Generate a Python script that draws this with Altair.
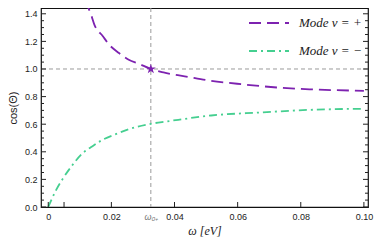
import altair as alt
import pandas as pd

# ---- data ----
omega_plus = [0.01147, 0.01356, 0.0146, 0.0173, 0.0193, 0.0224, 0.0255, 0.0287,
              0.0325, 0.0365, 0.0443, 0.0515, 0.062, 0.0724, 0.0828, 0.1]
cos_plus = [1.50, 1.394, 1.322, 1.237, 1.176, 1.116, 1.067, 1.038,
            1.0, 0.975, 0.943, 0.915, 0.888, 0.866, 0.853, 0.842]

omega_minus = [0.0, 0.0026, 0.0047, 0.0073, 0.0109, 0.0136, 0.0172, 0.0214,
               0.0255, 0.0325, 0.0375, 0.0412, 0.0516, 0.0672, 0.0829, 0.1]
cos_minus = [0.0, 0.128, 0.208, 0.293, 0.390, 0.434, 0.487, 0.528,
             0.564, 0.603, 0.620, 0.632, 0.663, 0.685, 0.704, 0.712]

omega0 = 0.0325
label_plus = "Mode ν = +"
label_minus = "Mode ν = −"

x_ticks = [0, 0.02, omega0, 0.04, 0.06, 0.08, 0.10]
x_tick_marks = [0, 0.005, 0.02, 0.04, 0.06, 0.08, 0.10]
y_major = [0, 0.2, 0.4, 0.6, 0.8, 1.0, 1.2, 1.4]
y_minor = [0.05, 0.1, 0.15, 0.25, 0.3, 0.35, 0.45, 0.5, 0.55, 0.65, 0.7, 0.75,
           0.85, 0.9, 0.95, 1.05, 1.1, 1.15, 1.25, 1.3, 1.35]

PURPLE = "#7d22b0"
GREEN = "#45cf90"
W, H = 327, 199
STAR = ("M0,-1L0.2245,-0.309L0.951,-0.309L0.363,0.118L0.588,0.809L0,0.382"
        "L-0.588,0.809L-0.363,0.118L-0.951,-0.309L-0.2245,-0.309Z")

curves = pd.concat([
    pd.DataFrame({"w": omega_plus, "c": cos_plus, "mode": label_plus}),
    pd.DataFrame({"w": omega_minus, "c": cos_minus, "mode": label_minus}),
], ignore_index=True)

xs = alt.Scale(domain=[-0.0023, 0.1013], nice=False, zero=False)
ys = alt.Scale(domain=[0, 1.442], nice=False)

is_w0 = "abs(datum.value - 0.0325) < 0.001"
label_expr = ("datum.value == 0 ? '0' : " + is_w0 + " ? 'ω₀₊' : "
              "format(datum.value, '.2f')")

xaxis = alt.Axis(values=x_ticks, labelExpr=label_expr, tickSize=0, domain=False,
                 grid=False, labelPadding=5, labelFont="Liberation Sans", labelFontSize=9,
                 labelColor={"condition": {"test": is_w0, "value": "#777777"},
                             "value": "#222222"},
                 labelFontStyle={"condition": {"test": is_w0, "value": "italic"},
                                 "value": "normal"},
                 labelOverlap=False,
                 title="ω [eV]", titleFont="Liberation Serif", titleFontStyle="italic",
                 titleFontWeight="normal", titleFontSize=12, titleColor="#222222",
                 titlePadding=4)
yaxis = alt.Axis(values=y_major, format=".1f", tickSize=0, domain=False, grid=False,
                 labelPadding=4, labelFont="Liberation Sans", labelFontSize=9,
                 labelColor="#222222", labelOverlap=False,
                 title="cos(Θ)", titleFont="Liberation Sans", titleFontWeight="normal",
                 titleFontSize=11, titleColor="#222222", titlePadding=6)

X = alt.X("w:Q", scale=xs, axis=xaxis)
Y = alt.Y("c:Q", scale=ys, axis=yaxis)

leg = alt.Legend(title=None, orient="none", legendX=207, legendY=-6,
                 symbolType="stroke", symbolSize=1600, symbolStrokeWidth=2,
                 labelFont="Liberation Serif", labelFontStyle="italic", labelFontSize=13,
                 labelOffset=9, labelColor="#222222", rowPadding=-14)

lines = alt.Chart(curves).mark_line(strokeWidth=1.8, interpolate="monotone", clip=True).encode(
    x=X, y=Y,
    color=alt.Color("mode:N", scale=alt.Scale(domain=[label_plus, label_minus],
                                               range=[PURPLE, GREEN]), legend=leg),
    strokeDash=alt.StrokeDash("mode:N", scale=alt.Scale(domain=[label_plus, label_minus],
                                                        range=[[12, 6], [8, 4, 2, 4]]),
                              legend=leg),
)

hline = alt.Chart(pd.DataFrame({"c": [1.0]})).mark_rule(
    color="#9a9a9a", strokeDash=[4, 3], strokeWidth=1).encode(y=Y)
vline = alt.Chart(pd.DataFrame({"w": [omega0]})).mark_rule(
    color="#9a9a9a", strokeDash=[4, 3], strokeWidth=1).encode(x=X)

star = alt.Chart(pd.DataFrame({"w": [omega0], "c": [1.0]})).mark_point(
    shape=STAR, filled=True, size=110, color=PURPLE, opacity=1).encode(x=X, y=Y)

ymaj = pd.DataFrame({"c": y_major})
ymin = pd.DataFrame({"c": y_minor})
xt = pd.DataFrame({"w": x_tick_marks})

tick_style = dict(color="#222222", strokeWidth=1)
yl_maj = alt.Chart(ymaj).mark_rule(**tick_style).encode(
    y=Y, x=alt.value(0), x2=alt.value(5))
yr_maj = alt.Chart(ymaj).mark_rule(**tick_style).encode(
    y=Y, x=alt.value(W - 5), x2=alt.value(W))
yl_min = alt.Chart(ymin).mark_rule(**tick_style).encode(
    y=Y, x=alt.value(0), x2=alt.value(3))
yr_min = alt.Chart(ymin).mark_rule(**tick_style).encode(
    y=Y, x=alt.value(W - 3), x2=alt.value(W))
xb = alt.Chart(xt).mark_rule(**tick_style).encode(
    x=X, y=alt.value(H - 5), y2=alt.value(H))

chart = alt.layer(hline, vline, lines, star, yl_maj, yr_maj, yl_min, yr_min, xb).properties(
    width=W, height=H,
    background="white",
    autosize=alt.AutoSizeParams(type="none"),
    padding={"left": 33, "top": 0, "right": 6, "bottom": 30},
).configure_view(stroke="#111111", strokeWidth=1.2)

chart.save("out.html", embed_options={"renderer": "svg", "actions": False})
